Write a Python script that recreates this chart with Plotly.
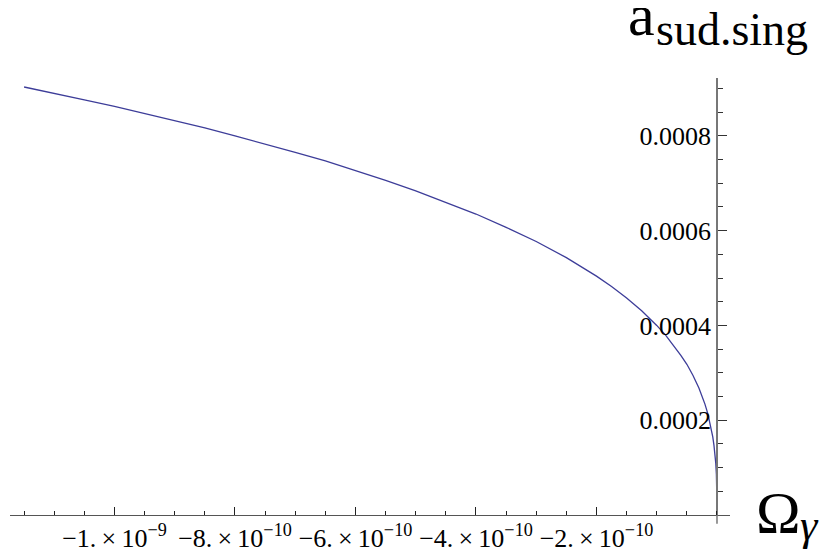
import plotly.graph_objects as go

# values (omega in 1e-10, a in 1e-4)
omega_e10 = [-11.5, -11.0, -10.5, -10.0, -9.5, -9.0, -8.5, -8.0, -7.5, -7.0, -6.5, -6.0,
             -5.5, -5.0, -4.5, -4.0, -3.5, -3.0, -2.5, -2.0, -1.75, -1.5, -1.25, -1.0,
             -0.85, -0.7, -0.6, -0.5, -0.4, -0.3, -0.25, -0.2, -0.15, -0.1, -0.07,
             -0.05, -0.03, -0.02, -0.01, -0.005, -0.002, -0.001, -0.0003, 0.0]
a_e4 = [9.03, 8.90, 8.76, 8.62, 8.47, 8.32, 8.17, 8.00, 7.83, 7.65, 7.47, 7.27,
        7.06, 6.84, 6.60, 6.35, 6.07, 5.77, 5.43, 5.04, 4.82, 4.58, 4.31, 4.00,
        3.79, 3.55, 3.37, 3.18, 2.95, 2.68, 2.52, 2.34, 2.13, 1.86, 1.65,
        1.47, 1.24, 1.09, 0.86, 0.68, 0.50, 0.40, 0.27, 0.0]

TS = '\u2009'
x_tickvals = [-1e-9, -8e-10, -6e-10, -4e-10, -2e-10]
x_ticktext = [f'−1.{TS}×{TS}10<sup>−9</sup>', f'−8.{TS}×{TS}10<sup>−10</sup>',
              f'−6.{TS}×{TS}10<sup>−10</sup>', f'−4.{TS}×{TS}10<sup>−10</sup>',
              f'−2.{TS}×{TS}10<sup>−10</sup>']
y_tickvals = [0.0002, 0.0004, 0.0006, 0.0008]
y_ticktext = ['0.0002', '0.0004', '0.0006', '0.0008']

x = [v * 1e-10 for v in omega_e10]
y = [v * 1e-4 for v in a_e4]

SERIF = "Times New Roman"
X_RANGE = [-1.1734e-9, 2.16e-11]
Y_RANGE = [0, 0.000922]

fig = go.Figure()
fig.add_trace(go.Scatter(x=x, y=y, mode='lines',
                         line=dict(color='#3d3d99', width=1.3),
                         showlegend=False, hoverinfo='skip'))

# page body has an 8px margin, so the figure is a bit smaller than the window
fig.update_layout(
    width=822, height=548,
    plot_bgcolor='white', paper_bgcolor='white',
    margin=dict(l=2, r=100, t=70, b=41, autoexpand=False),
    font=dict(family=SERIF, color='black', size=26),
    xaxis=dict(
        range=X_RANGE, showgrid=False, zeroline=False, automargin=False,
        showline=True, linecolor='#555555', linewidth=1,
        tickmode='array', tickvals=x_tickvals, ticktext=x_ticktext,
        ticks='inside', ticklen=8, tickcolor='#222222', tickwidth=1,
        minor=dict(tick0=0, dtick=0.5e-10, ticks='inside', ticklen=4,
                   tickcolor='#222222', showgrid=False),
        tickfont=dict(size=26, family=SERIF),
    ),
    yaxis=dict(
        range=Y_RANGE, showgrid=False, zeroline=False, automargin=False,
        anchor='free', position=707 / 720, side='left',
        showline=True, linecolor='#777777', linewidth=1.5,
        tickmode='array', tickvals=y_tickvals, ticktext=y_ticktext,
        ticks='inside', ticklen=9, tickcolor='#333333', tickwidth=1,
        minor=dict(tick0=0, dtick=0.00005, ticks='inside', ticklen=5,
                   tickcolor='#333333', showgrid=False),
        tickfont=dict(size=26, family=SERIF),
    ),
    shapes=[
        # y axis runs a little below the x axis, as in the reference
        dict(type='line', xref='x', yref='paper', x0=0, x1=0, y0=-0.02, y1=0,
             line=dict(color='#777777', width=1.5)),
    ],
    annotations=[
        dict(text='a', xref='paper', yref='paper',
             x=0.855, y=1.145, xanchor='left', yanchor='middle',
             showarrow=False, font=dict(size=60, family=SERIF)),
        dict(text='sud.sing', xref='paper', yref='paper',
             x=0.895, y=1.111, xanchor='left', yanchor='middle',
             showarrow=False, font=dict(size=46, family=SERIF)),
        dict(text='Ω', xref='paper', yref='paper',
             x=1.033, y=0.005, xanchor='left', yanchor='middle',
             showarrow=False, font=dict(size=60, family=SERIF)),
        dict(text='<i>γ</i>', xref='paper', yref='paper',
             x=1.095, y=-0.024, xanchor='left', yanchor='middle',
             showarrow=False, font=dict(size=44, family=SERIF)),
    ],
)

fig.write_html("out.html")
